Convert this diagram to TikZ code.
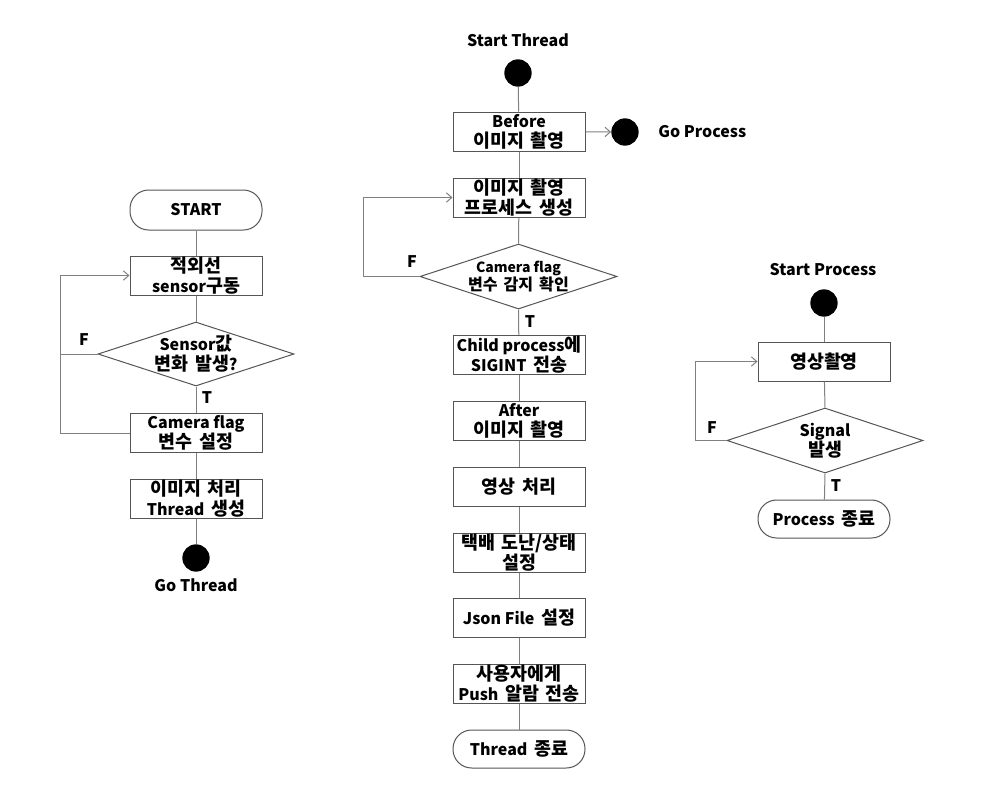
\documentclass[tikz,border=0pt]{standalone}
\usepackage{fontspec}
\setmainfont{Noto Sans CJK KR}
\newfontfamily\kofont{Noto Sans CJK KR}[Scale=1.15, WordSpace=1.6]
\newcommand\ko[1]{{\kofont #1}}
\usetikzlibrary{shapes.geometric,arrows.meta}
\definecolor{boxc}{HTML}{555555}
\definecolor{linec}{HTML}{808080}
\tikzset{
  box/.style={draw=boxc, line width=0.75pt, fill=white, minimum width=99pt, minimum height=29.25pt, inner xsep=1pt, inner ysep=0pt, align=center},
  term/.style={box, rounded corners=14pt},
  dia/.style={draw=boxc, line width=0.75pt, diamond, inner sep=0pt, fill=white},
  dot/.style={circle, fill=black, minimum size=20.5pt, inner sep=0pt},
  conn/.style={draw=linec, line width=0.75pt},
  back/.style={conn, -{Straight Barb[length=4pt,width=7pt]}},
  txt/.style={align=center, inner sep=0pt},
  small/.style={font=\bfseries\fontsize{10.5}{13.5}\selectfont}
}
\begin{document}
\begin{tikzpicture}[x=0.75pt,y=-0.75pt, font=\bfseries\fontsize{12}{15}\selectfont]
\fill[white] (0,0) rectangle (1000,789);
\useasboundingbox (0,0) rectangle (1000,789);

% ---------- left chart ----------
\node[term, minimum height=30pt] (start) at (196,210) {START};
\node[box] (sens) at (196,275.5) {\ko{적외선}\\sensor\ko{구동}};
\node[dia, minimum width=147pt, minimum height=48pt] (d1) at (196,354) {};
\node[txt] (d1t) at (d1.center) {Sensor\ko{값}\\\ko{변화 발생}?};
\node[box] (cam) at (196,433) {Camera flag\\\ko{변수 설정}};
\node[box] (thr) at (196,499) {\ko{이미지 처리}\\Thread\ko{ 생성}};
\node[dot] (gt) at (196,558) {};
\node[txt] (gtl) at (196,585) {Go Thread};
\node[txt] (f1) at (84,340) {F};
\node[txt] (t1) at (207,398) {T};
\coordinate (l1a) at (60,433);
\coordinate (l1b) at (60,354);

\draw[conn] (start) -- (sens);
\draw[conn] (sens) -- (d1.north);
\draw[conn] (d1.south) -- (cam);
\draw[conn] (cam) -- (thr);
\draw[conn] (thr) -- (gt);
\draw[back] (cam.west) -- (l1a) |- (sens.west);
\draw[conn] (d1.west) -- (l1b);

% ---------- middle chart ----------
\node[txt] (stl) at (518,40) {Start Thread};
\node[dot] (st) at (518,73) {};
\node[box] (bef) at (519,131.5) {Before\\\ko{이미지 촬영}};
\node[dot] (gp) at (625,132) {};
\node[txt, anchor=west] (gpl) at (658,132) {Go Process};
\node[box] (proc) at (519,197.5) {\ko{이미지 촬영}\\\ko{프로세스 생성}};
\node[dia, minimum width=147.75pt, minimum height=48.75pt] (d2) at (518.5,276.5) {};
\node[txt, small] (d2t) at (d2.center) {Camera flag\\\ko{변수 감지 확인}};
\node[box] (child) at (519,355) {Child process\ko{에}\\SIGINT\ko{ 전송}};
\node[box] (aft) at (519,421) {After\\\ko{이미지 촬영}};
\node[box] (img) at (519,487) {\ko{영상 처리}};
\node[box] (tb) at (519,552.5) {\ko{택배 도난/상태}\\\ko{설정}};
\node[box] (json) at (519,618) {Json File\ko{ 설정}};
\node[box] (push) at (519,683.5) {\ko{사용자에게}\\Push\ko{ 알람 전송}};
\node[term, minimum height=28.5pt] (tend) at (519,749) {Thread\ko{ 종료}};
\node[txt] (f2) at (412,262) {F};
\node[txt] (t2) at (530,322) {T};
\coordinate (l2) at (363,276.5);

\draw[conn] (st) -- (bef);
\draw[back] (bef) -- (gp);
\draw[conn] (bef) -- (proc);
\draw[conn] (proc) -- (d2.north);
\draw[conn] (d2.south) -- (child);
\draw[conn] (child) -- (aft);
\draw[conn] (aft) -- (img);
\draw[conn] (img) -- (tb);
\draw[conn] (tb) -- (json);
\draw[conn] (json) -- (push);
\draw[conn] (push) -- (tend);
\draw[back] (d2.west) -- (l2) |- (proc.west);

% ---------- right chart ----------
\node[txt] (spl) at (823,270) {Start Process};
\node[dot] (sp) at (824,303) {};
\node[box] (cap) at (824,361.5) {\ko{영상촬영}};
\node[dia, minimum width=147pt, minimum height=48.75pt] (d3) at (825,440.5) {};
\node[txt] (d3t) at (d3.center) {Signal\\\ko{발생}};
\node[term, minimum height=28.5pt] (pend) at (824,519) {Process\ko{ 종료}};
\node[txt] (f3) at (712,428) {F};
\node[txt] (t3) at (836,486) {T};
\coordinate (l3) at (695,440.5);

\draw[conn] (sp) -- (cap);
\draw[conn] (cap) -- (d3.north);
\draw[conn] (d3.south) -- (pend);
\draw[back] (d3.west) -- (l3) |- (cap.west);
\end{tikzpicture}
\end{document}
